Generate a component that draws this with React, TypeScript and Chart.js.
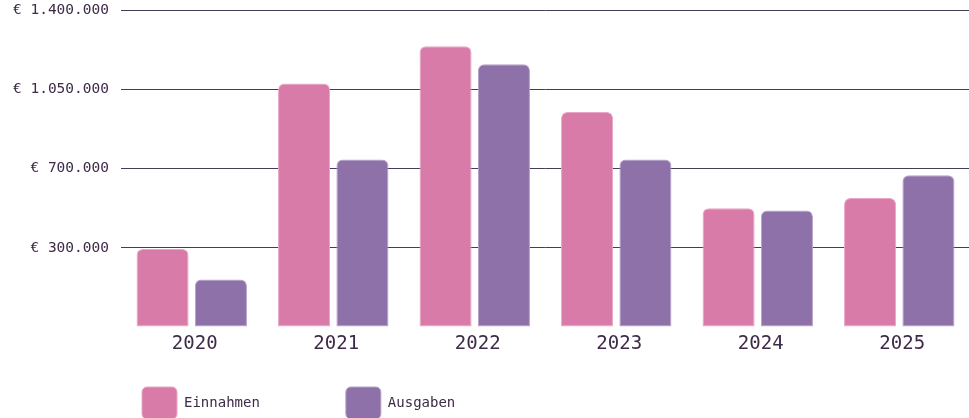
import React, { useEffect, useRef } from "react";
import { Chart, registerables } from "chart.js";

Chart.register(...registerables);

const YEARS = ["2020", "2021", "2022", "2023", "2024", "2025"];
const EINNAHMEN = [345000, 1075000, 1240000, 950000, 525000, 570000];
const AUSGABEN = [210000, 740000, 1160000, 740000, 515000, 670000];
const Y_TICK_LABELS = ["", "€ 300.000", "€ 700.000", "€ 1.050.000", "€ 1.400.000"];
const Y_MAX = 1400000;
const Y_STEP = 350000;

const PINK = "#d97ba8";
const PINK_EDGE = "#eaa6c7";
const PURPLE = "#8e71a8";
const PURPLE_EDGE = "#b6a2cb";
const TEXT = "#3d2b47";
const GRID = "#453d58";
const MONO = "'DejaVu Sans Mono', 'Liberation Mono', monospace";

const LEGEND_PAD = 86;
const LEGEND_X = 142;
const LEGEND_Y = 387;

const legendPlacer = {
  id: "legendPlacer",
  afterLayout(chart: any) {
    const lg = chart.legend;
    if (!lg) return;
    lg.left = LEGEND_X - LEGEND_PAD;
    lg.top = LEGEND_Y - LEGEND_PAD;
  },
};

export default function App() {
  const ref = useRef<HTMLCanvasElement | null>(null);

  useEffect(() => {
    if (!ref.current) return;
    const chart = new Chart(ref.current, {
      type: "bar",
      data: {
        labels: YEARS,
        datasets: [
          {
            label: "Einnahmen",
            data: EINNAHMEN,
            backgroundColor: PINK,
            borderColor: PINK_EDGE,
            borderWidth: 1,
            borderSkipped: false,
            borderRadius: { topLeft: 6, topRight: 6, bottomLeft: 0, bottomRight: 0 },
          },
          {
            label: "Ausgaben",
            data: AUSGABEN,
            backgroundColor: PURPLE,
            borderColor: PURPLE_EDGE,
            borderWidth: 1,
            borderSkipped: false,
            borderRadius: { topLeft: 6, topRight: 6, bottomLeft: 0, bottomRight: 0 },
          },
        ],
      },
      options: {
        responsive: false,
        animation: false,
        devicePixelRatio: 1,
        layout: { padding: { left: 13, top: 10, right: 1, bottom: 0 } },
        datasets: {
          bar: { categoryPercentage: 0.825, barPercentage: 0.892 },
        },
        scales: {
          x: {
            grid: { display: false, drawTicks: false },
            border: { display: false },
            ticks: {
              color: TEXT,
              font: { family: MONO, size: 19 },
              padding: 6,
              labelOffset: 3,
            },
            afterFit: (s: any) => {
              s.height = 29;
            },
          },
          y: {
            min: 0,
            max: Y_MAX,
            grid: {
              drawTicks: false,
              lineWidth: 1,
              color: (ctx: any) => (ctx.tick && ctx.tick.value === 0 ? "rgba(0,0,0,0)" : GRID),
            },
            border: { display: false },
            ticks: {
              stepSize: Y_STEP,
              color: TEXT,
              font: { family: MONO, size: 14.5 },
              padding: 12,
              callback: (_v: any, i: number) => Y_TICK_LABELS[i] ?? "",
            },
            afterFit: (s: any) => {
              s.width = 108;
              s.paddingTop = 0;
              s.paddingBottom = 0;
            },
          },
        },
        plugins: {
          tooltip: { enabled: false },
          legend: {
            position: "bottom",
            align: "start",
            maxHeight: 84,
            labels: {
              boxWidth: 35,
              boxHeight: 32,
              padding: LEGEND_PAD,
              useBorderRadius: true,
              borderRadius: 5,
              color: TEXT,
              font: { family: MONO, size: 14 },
            },
          },
        },
      },
      plugins: [legendPlacer],
    } as any);
    return () => chart.destroy();
  }, []);

  return (
    <div
      style={{
        position: "fixed",
        left: 0,
        top: 0,
        width: 969,
        height: 418,
        overflow: "hidden",
        background: "#ffffff",
      }}
    >
      <canvas ref={ref} width={971} height={440} style={{ display: "block", width: 971, height: 440 }} />
    </div>
  );
}
